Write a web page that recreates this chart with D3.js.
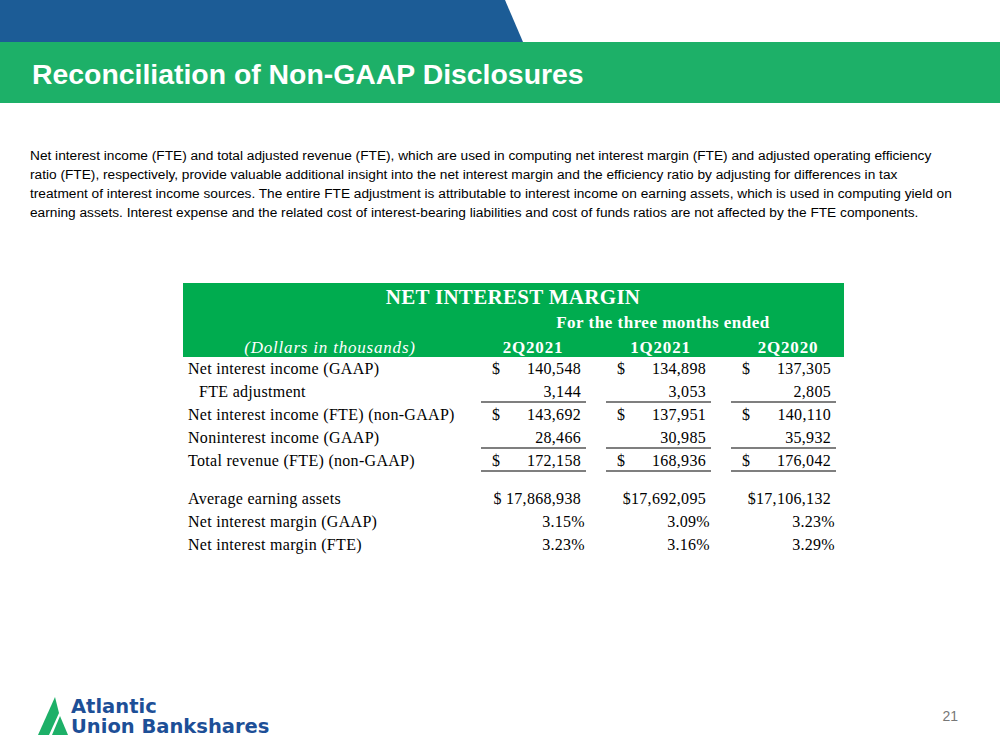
<!DOCTYPE html>
<html><head><meta charset="utf-8">
<script src="https://cdn.jsdelivr.net/npm/d3@7"></script>
<style>body{margin:0;background:#fff}svg{display:block}</style>
</head><body>
<script>
// ---- data ----
const title = "Reconciliation of Non-GAAP Disclosures";
const paragraph = [
  "Net interest income (FTE) and total adjusted revenue (FTE), which are used in computing net interest margin (FTE) and adjusted operating efficiency",
  "ratio (FTE), respectively, provide valuable additional insight into the net interest margin and the efficiency ratio by adjusting for differences in tax",
  "treatment of interest income sources. The entire FTE adjustment is attributable to interest income on earning assets, which is used in computing yield on",
  "earning assets. Interest expense and the related cost of interest-bearing liabilities and cost of funds ratios are not affected by the FTE components."
];
const tableTitle = "NET INTEREST MARGIN";
const periodCaption = "For the three months ended";
const unitsLabel = "(Dollars in thousands)";
const periods = ["2Q2021", "1Q2021", "2Q2020"];
const rowLabels = [
  "Net interest income (GAAP)", "FTE adjustment", "Net interest income (FTE) (non-GAAP)",
  "Noninterest income (GAAP)", "Total revenue (FTE) (non-GAAP)", "",
  "Average earning assets", "Net interest margin (GAAP)", "Net interest margin (FTE)"
];
const rowIndent = [false, true, false, false, false, false, false, false, false];
const rowDollar = [true, false, true, false, true, false, false, false, false];
const rowLineBelow = [false, true, false, true, true, false, false, false, false];
const values2Q2021 = ["140,548", "3,144", "143,692", "28,466", "172,158", "", "$ 17,868,938", "3.15%", "3.23%"];
const values1Q2021 = ["134,898", "3,053", "137,951", "30,985", "168,936", "", "$17,692,095", "3.09%", "3.16%"];
const values2Q2020 = ["137,305", "2,805", "140,110", "35,932", "176,042", "", "$17,106,132", "3.23%", "3.29%"];
const logoLines = ["Atlantic", "Union Bankshares"];
const pageNumber = "21";

const W = 1000, H = 750;
const svg = d3.select("body").append("svg").attr("width", W).attr("height", H);
const sans = "'Liberation Sans', Arial, sans-serif";
const serif = "'Liberation Serif', 'Times New Roman', serif";

// header bands
svg.append("path").attr("d", "M0,0 L505,0 L523,42 L0,42 Z").attr("fill", "#1C5C96");
svg.append("rect").attr("x", 0).attr("y", 42).attr("width", W).attr("height", 61).attr("fill", "#1DB068");
svg.append("text").attr("x", 32).attr("y", 84).attr("fill", "#fff")
  .attr("font-family", sans).attr("font-weight", "bold").attr("font-size", 28.4).text(title);

// paragraph
svg.append("g").selectAll("text").data(paragraph).join("text")
  .attr("x", 30).attr("y", (d, i) => 160 + i * 19)
  .attr("font-family", sans).attr("font-size", 13.7).attr("fill", "#000").text(d => d);

// table
const tx0 = 183, tx1 = 844;
const colCenter = d3.scalePoint().domain(periods).range([533, 788]);
const colRight = d3.scalePoint().domain(periods).range([581, 831]);
const colLeft = d3.scalePoint().domain(periods).range([481, 731]);
const colW = 105;
const cols = [values2Q2021, values1Q2021, values2Q2020];

const hdrTop = 283, hdrBot = 357;
svg.append("rect").attr("x", tx0).attr("y", hdrTop).attr("width", tx1 - tx0).attr("height", hdrBot - hdrTop).attr("fill", "#00AC4F");
svg.append("text").attr("x", 513).attr("y", 304).attr("text-anchor", "middle").attr("fill", "#fff")
  .attr("font-family", serif).attr("font-weight", "bold").attr("font-size", 21).attr("letter-spacing", 0.3).text(tableTitle);
svg.append("text").attr("x", 663).attr("y", 328).attr("text-anchor", "middle").attr("fill", "#fff")
  .attr("font-family", serif).attr("font-weight", "bold").attr("font-size", 17).attr("letter-spacing", 0.5).text(periodCaption);
svg.append("text").attr("x", 330).attr("y", 353).attr("text-anchor", "middle").attr("fill", "#fff")
  .attr("font-family", serif).attr("font-style", "italic").attr("font-size", 17).attr("letter-spacing", 0.8).text(unitsLabel);
svg.append("g").selectAll("text").data(periods).join("text")
  .attr("x", d => colCenter(d)).attr("y", 353).attr("text-anchor", "middle").attr("fill", "#fff")
  .attr("font-family", serif).attr("font-weight", "bold").attr("font-size", 17).attr("letter-spacing", 0.8).text(d => d);

// row positions
const rowH = rowLabels.map(l => l === "" ? 15 : 23);
const rowTop = [];
rowH.reduce((acc, h, i) => { rowTop[i] = acc; return acc + h; }, hdrBot);
const y = i => rowTop[i] + rowH[i] / 2;

const rows = svg.append("g").attr("font-family", serif).attr("font-size", 16).attr("letter-spacing", 0.3).attr("fill", "#000");
rowLabels.forEach((lab, i) => {
  if (lab === "") return;
  rows.append("text").attr("x", rowIndent[i] ? 199 : 188).attr("y", y(i) + 5).text(lab);
  periods.forEach((p, j) => {
    const v = cols[j][i];
    if (rowDollar[i]) rows.append("text").attr("x", colLeft(p) + 11).attr("y", y(i) + 5).text("$");
    rows.append("text").attr("x", colRight(p) + (v.endsWith("%") ? 4 : 0)).attr("y", y(i) + 5).attr("text-anchor", "end").text(v);
    if (rowLineBelow[i]) {
      const ly = rowTop[i] + rowH[i] - 1;
      rows.append("line").attr("x1", colLeft(p)).attr("x2", colLeft(p) + colW)
        .attr("y1", ly).attr("y2", ly).attr("stroke", "#000").attr("stroke-width", 1.2);
    }
  });
});

// logo
svg.append("path").attr("d", "M55,697 L38,735 L49,735 L59,713 Z").attr("fill", "#1DB068");
svg.append("path").attr("d", "M60,716 L68,735 L52,735 Z").attr("fill", "#1DB068");
const logo = svg.append("text").attr("fill", "#1D4F97").attr("font-family", "'DejaVu Sans', sans-serif")
  .attr("font-weight", "bold").attr("font-size", 19.5).attr("letter-spacing", 0);
logo.selectAll("tspan").data(logoLines).join("tspan")
  .attr("x", 71).attr("y", (d, i) => 713 + i * 20).text(d => d);

svg.append("text").attr("x", 958).attr("y", 721).attr("text-anchor", "end").attr("fill", "#777")
  .attr("font-family", sans).attr("font-size", 14).text(pageNumber);
</script>
</body></html>
